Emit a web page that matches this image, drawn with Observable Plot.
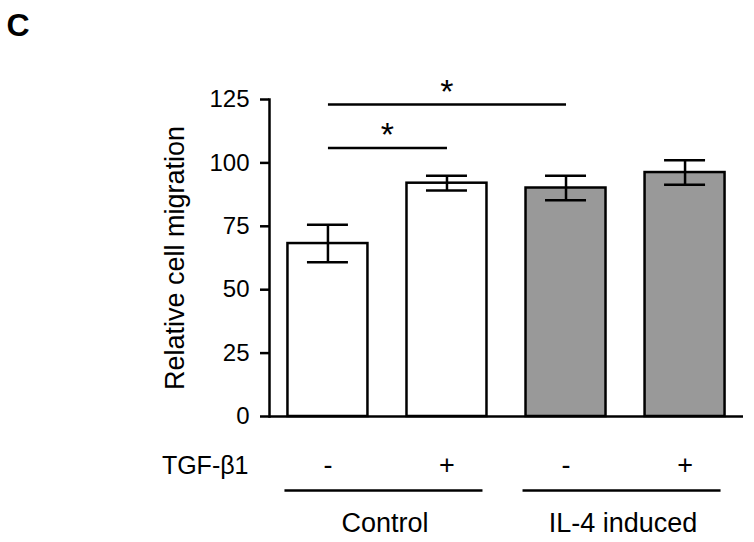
<!DOCTYPE html>
<html>
<head>
<meta charset="utf-8">
<script src="https://cdn.jsdelivr.net/npm/d3@7"></script>
<script src="https://cdn.jsdelivr.net/npm/@observablehq/plot@0.6"></script>
<style>
  html, body { margin: 0; padding: 0; background: white; }
</style>
</head>
<body>
<div id="chart"></div>
<script>
// ---- data ----
const barIds = ["ctrl-", "ctrl+", "il4-", "il4+"];
const groupOf = ["Control", "Control", "IL-4 induced", "IL-4 induced"];
const tgfLabels = ["-", "+", "-", "+"];
const means = [68.2, 92.0, 90.1, 96.2];
const errors = [7.4, 2.9, 4.8, 4.8];
const yTicks = [0, 25, 50, 75, 100, 125];
const groupNames = ["Control", "IL-4 induced"];
const groupFirst = ["ctrl-", "il4-"];
const groupLast = ["ctrl+", "il4+"];
const compFrom = ["ctrl-", "ctrl-"];
const compTo = ["ctrl+", "il4-"];
const compLevel = [105.9, 123];

const data = barIds.map((id, i) => ({id, group: groupOf[i], tgf: tgfLabels[i], mean: means[i], err: errors[i]}));
const groups = groupNames.map((name, i) => ({name, first: groupFirst[i], last: groupLast[i]}));
const comps = compFrom.map((a, i) => ({a, b: compTo[i], level: compLevel[i],
  span: barIds.indexOf(compTo[i]) - barIds.indexOf(a)}));

// ---- layout ----
const W = 754, H = 542;
const mL = 269, mR = 11, mT = 99, mB = 126;
const pIn = 0.328, pOut = 0.155;
const step = (W - mL - mR) / (barIds.length - pIn + 2 * pOut);
const SW = 2.5;
const font = "'Liberation Sans', Arial, Helvetica, sans-serif";

const starMarks = comps.map(c =>
  Plot.text([c], {x: "a", y: "level", text: () => "*", dx: step * c.span / 2, dy: -2, fontSize: 34, lineAnchor: "bottom", fill: "black"})
);

const chart = Plot.plot({
  width: W,
  height: H,
  marginLeft: mL,
  marginRight: mR,
  marginTop: mT,
  marginBottom: mB,
  style: {fontFamily: font, background: "white", color: "black"},
  x: {type: "band", domain: barIds, paddingInner: pIn, paddingOuter: pOut, round: false, axis: null},
  y: {domain: [0, 125]},
  marks: [
    // bars
    Plot.barY(data, {filter: d => d.group === "Control", x: "id", y: "mean", fill: "white", stroke: "black", strokeWidth: SW}),
    Plot.barY(data, {filter: d => d.group !== "Control", x: "id", y: "mean", fill: "#999999", stroke: "black", strokeWidth: SW}),
    // error bars
    Plot.ruleX(data, {x: "id", y1: d => d.mean - d.err, y2: d => d.mean + d.err, stroke: "black", strokeWidth: SW}),
    Plot.tickY(data, {x: "id", y: d => d.mean + d.err, insetLeft: 19.5, insetRight: 19.5, stroke: "black", strokeWidth: SW}),
    Plot.tickY(data, {x: "id", y: d => d.mean - d.err, insetLeft: 19.5, insetRight: 19.5, stroke: "black", strokeWidth: SW}),
    // axes
    Plot.ruleY([0], {stroke: "black", strokeWidth: SW}),
    Plot.frame({anchor: "left", stroke: "black", strokeWidth: SW}),
    Plot.axisY({ticks: yTicks, tickSize: 9, tickPadding: 11, fontSize: 24, strokeWidth: SW, label: null, tickFormat: d => String(d)}),
    Plot.text(["Relative cell migration"], {frameAnchor: "left", dx: -94, rotate: -90, fontSize: 27, lineAnchor: "middle", textAnchor: "middle", fill: "black"}),
    // significance brackets
    Plot.link(comps, {x1: "a", x2: "b", y1: "level", y2: "level", stroke: "black", strokeWidth: SW}),
    ...starMarks,
    // TGF row
    Plot.text(["TGF-\u03b21"], {frameAnchor: "bottom-left", dx: -21, dy: 49, fontSize: 25, textAnchor: "end", lineAnchor: "middle", fill: "black"}),
    Plot.text(data, {x: "id", text: "tgf", frameAnchor: "bottom", dy: 49, fontSize: 27, lineAnchor: "middle", fill: "black"}),
    // group lines and labels
    Plot.ruleY(groups, {x1: "first", x2: "last", y: () => 0, dy: 74, insetLeft: -3, insetRight: 4, stroke: "black", strokeWidth: SW}),
    Plot.text(groups, {x: "first", text: "name", frameAnchor: "bottom", dx: 57, dy: 107, fontSize: 27, lineAnchor: "middle", fill: "black"}),
    // panel letter
    Plot.text(["C"], {frameAnchor: "top-left", dx: 6 - mL, dy: 35 - mT, fontSize: 32, fontWeight: "bold", textAnchor: "start", lineAnchor: "bottom", fill: "black"})
  ]
});
document.getElementById("chart").appendChild(chart);
</script>
</body>
</html>
